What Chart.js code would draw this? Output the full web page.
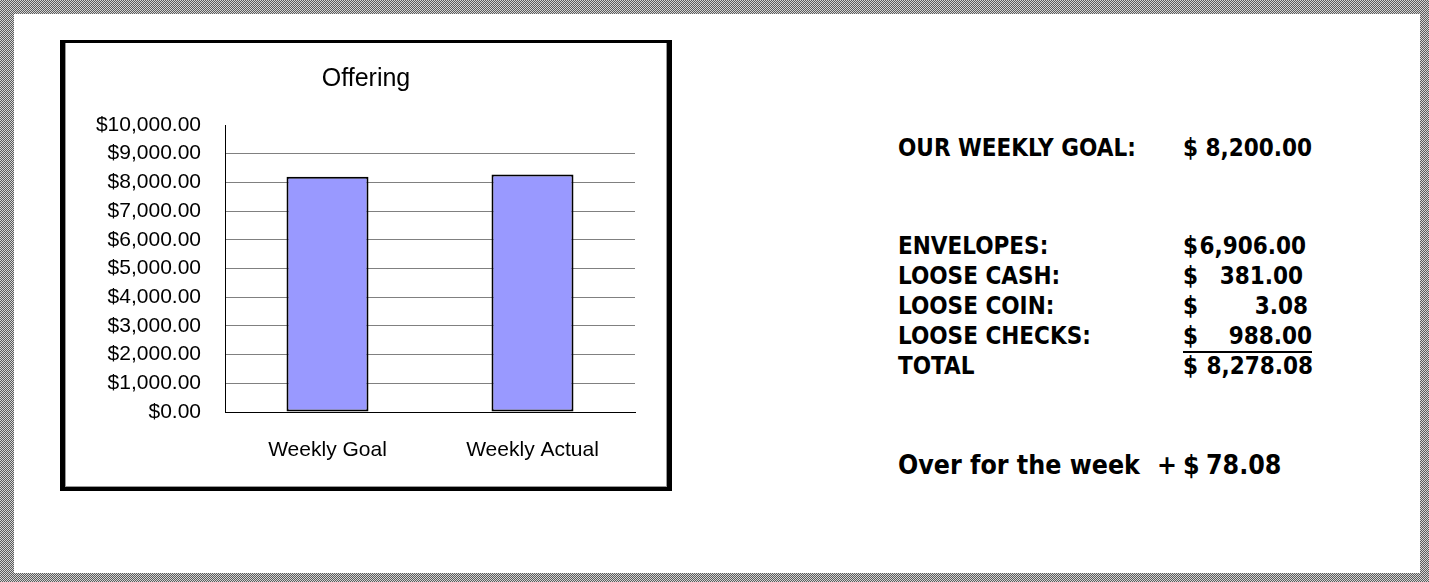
<!DOCTYPE html>
<html>
<head>
<meta charset="utf-8">
<script src="https://cdn.jsdelivr.net/npm/chart.js@4.4.1/dist/chart.umd.min.js"></script>
<style>
  html, body { margin: 0; padding: 0; }
  body { width: 1429px; height: 582px; position: relative; overflow: hidden; background: #fff; }
  #frame {
    position: absolute; left: 0; top: 0; width: 1429px; height: 582px;
    background-image: repeating-conic-gradient(#5c5c5c 0% 25%, #d4d4d4 0% 50%);
    background-size: 2px 2px;
  }
  #page { position: absolute; left: 14px; top: 14px; width: 1406px; height: 559px; background: #fff; }
  #chartBox {
    position: absolute; left: 60px; top: 40px; width: 612px; height: 451px; box-sizing: border-box;
    border-style: solid; border-color: #000; border-width: 3px 5px 4px 5px;
    box-shadow: inset 1px 0 0 #9a9a9a, inset -1px 0 0 #9a9a9a, inset 0 -1px 0 #9a9a9a;
    background: #fff;
  }
  #offeringChart { position: absolute; left: 60px; top: 40px; }
  .summary {
    position: absolute; font-family: "DejaVu Sans Condensed", "DejaVu Sans", sans-serif;
    font-weight: bold; font-stretch: condensed; font-size: 24px; line-height: 1; color: #000;
    white-space: pre;
  }
  .amount { display: flex; justify-content: space-between; }
  .underlined { border-bottom: 2px solid #000; padding-bottom: 3px; }
</style>
</head>
<body>
<div id="frame"></div>
<div id="page"></div>
<div id="chartBox"></div>
<canvas id="offeringChart" width="612" height="451"></canvas>
<div id="summary"></div>
<script>
  // Chart data
  const categories = ['Weekly Goal', 'Weekly Actual'];
  const offering = [8200, 8278.08];
  const yTicks = [0, 1000, 2000, 3000, 4000, 5000, 6000, 7000, 8000, 9000, 10000];

  // Summary table on the right
  const summaryLabels = ['OUR WEEKLY GOAL:', 'ENVELOPES:', 'LOOSE CASH:', 'LOOSE COIN:', 'LOOSE CHECKS:', 'TOTAL'];
  const summaryAmounts = ['8,200.00', '6,906.00', '381.00', '3.08', '988.00', '8,278.08'];
  const differenceLabel = 'Over for the week';
  const differenceAmount = '78.08';

  // Layout of the summary rows (baselines and right edges, in page pixels)
  const rowBaselines = [156, 254, 284, 314, 344, 374];
  const rowRightEdges = [1312, 1306, 1303, 1308, 1312, 1313];

  const summaryDiv = document.getElementById('summary');

  function addText(text, left, baseline, size, extraClass) {
    const el = document.createElement('div');
    el.className = 'summary' + (extraClass ? ' ' + extraClass : '');
    el.style.fontSize = size + 'px';
    el.style.left = left + 'px';
    el.style.top = (baseline - size * 0.85) + 'px';
    el.textContent = text;
    summaryDiv.appendChild(el);
    return el;
  }

  for (let i = 0; i < summaryLabels.length; i++) {
    addText(summaryLabels[i], 898, rowBaselines[i], 24);

    // Dollar sign on the left, number pushed to the right edge
    const amt = addText('', 1183, rowBaselines[i], 24, 'amount' + (i === 4 ? ' underlined' : ''));
    amt.style.width = (rowRightEdges[i] - 1183) + 'px';
    const dollar = document.createElement('span');
    dollar.textContent = '$';
    const num = document.createElement('span');
    num.textContent = summaryAmounts[i];
    amt.appendChild(dollar);
    amt.appendChild(num);
  }

  addText(differenceLabel, 898, 475, 26.5);
  addText('+', 1157, 475, 26.5);
  addText('$', 1183, 475, 26.5);
  const diff = addText(differenceAmount, 1206, 475, 26.5);

  // Chart
  const chartFont = '"Liberation Sans", Arial, sans-serif';

  // Title is centred on the whole chart box, not only the area left of the right padding
  const centreTitle = {
    id: 'centreTitle',
    afterLayout: function(chart) {
      if (chart.titleBlock) {
        chart.titleBlock.left = 0;
        chart.titleBlock.right = chart.width;
        chart.titleBlock.width = chart.width;
      }
    }
  };

  const ctx = document.getElementById('offeringChart').getContext('2d');
  new Chart(ctx, {
    type: 'bar',
    data: {
      labels: categories,
      datasets: [{
        label: 'Offering',
        data: offering,
        backgroundColor: '#9999FF',
        borderColor: '#000000',
        borderWidth: 2,
        borderSkipped: false,
        categoryPercentage: 0.8,
        barPercentage: 0.5
      }]
    },
    plugins: [centreTitle],
    options: {
      responsive: false,
      animation: false,
      devicePixelRatio: 1,
      layout: { padding: { left: 0, right: 37, top: 0, bottom: 0 } },
      plugins: {
        legend: { display: false },
        tooltip: { enabled: false },
        title: {
          display: true,
          text: 'Offering',
          color: '#000',
          font: { family: chartFont, size: 25, weight: 'normal' },
          padding: { top: 24, bottom: 31 }
        }
      },
      scales: {
        x: {
          grid: { display: false, drawTicks: false },
          border: { display: true, color: '#000', width: 1 },
          ticks: { color: '#000', font: { family: chartFont, size: 21 }, padding: 26 },
          afterFit: function(scale) { scale.height = 79; }
        },
        y: {
          min: 0,
          max: 10000,
          afterBuildTicks: function(scale) { scale.ticks = yTicks.map(v => ({ value: v })); },
          ticks: {
            color: '#000',
            padding: 24,
            font: { family: chartFont, size: 21 },
            callback: function(value) {
              return '$' + Number(value).toLocaleString('en-US', { minimumFractionDigits: 2, maximumFractionDigits: 2 });
            }
          },
          grid: {
            drawTicks: false,
            lineWidth: 1,
            color: function(c) { return c.tick && c.tick.value === 10000 ? 'rgba(0,0,0,0)' : '#808080'; }
          },
          border: { display: true, color: '#000', width: 1 },
          afterFit: function(scale) { scale.width = 165; }
        }
      }
    }
  });
</script>
</body>
</html>
